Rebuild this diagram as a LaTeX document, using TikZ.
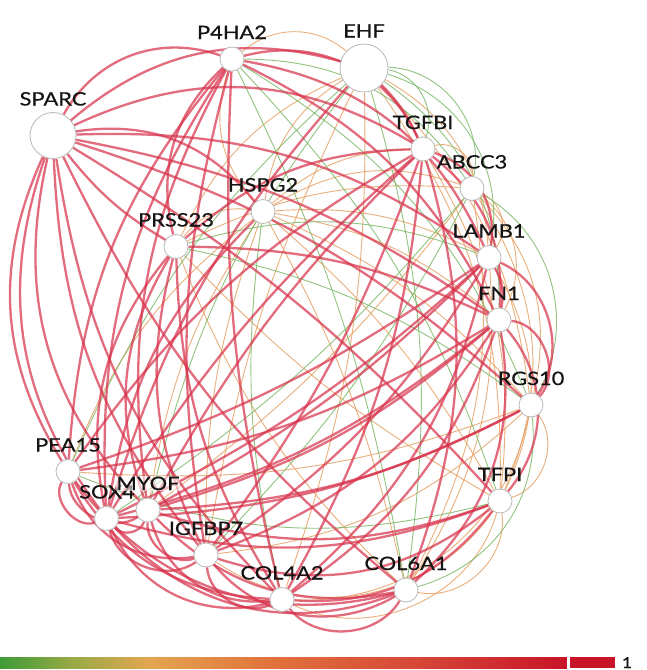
\documentclass[tikz,border=0pt]{standalone}
\usepackage{fontspec}
\setmainfont{Lato}[FakeStretch=1.18,FakeBold=0.6]
\definecolor{edR}{RGB}{215,50,75}
\definecolor{edO}{RGB}{230,160,100}
\definecolor{edG}{RGB}{125,185,105}
\definecolor{nodeB}{RGB}{185,185,185}
\definecolor{txt}{RGB}{20,20,20}
\definecolor{cb0}{RGB}{62,155,55}
\definecolor{cb1}{RGB}{150,170,70}
\definecolor{cb2}{RGB}{228,165,80}
\definecolor{cb3}{RGB}{225,115,60}
\definecolor{cb4}{RGB}{213,70,55}
\definecolor{cb5}{RGB}{200,20,40}
\pgfdeclarelayer{bg}
\pgfsetlayers{bg,main}
\begin{document}
\begin{tikzpicture}[x=1pt,y=-1pt,
  gn/.style={circle, draw=nodeB, fill=white, line width=0.8pt, inner sep=0pt},
  lbl/.style={anchor=base, inner sep=0pt, font=\fontsize{18.5}{22}\selectfont, text=txt},
  redE/.style={draw=edR, draw opacity=0.72, line width=2.3pt},
  orE/.style={draw=edO, draw opacity=0.85, line width=0.9pt},
  grE/.style={draw=edG, draw opacity=0.85, line width=0.9pt}]
\useasboundingbox (0,0) rectangle (646,670);
% nodes
\node[gn, minimum size=24pt] (P) at (232,59) {};
\node[gn, minimum size=48pt] (E) at (364,68) {};
\node[gn, minimum size=46pt] (S) at (53,135.5) {};
\node[gn, minimum size=24pt] (T) at (423,149) {};
\node[gn, minimum size=24pt] (A) at (472,188.5) {};
\node[gn, minimum size=24pt] (H) at (263,211.5) {};
\node[gn, minimum size=24pt] (R) at (176,246.5) {};
\node[gn, minimum size=24pt] (L) at (489,257.5) {};
\node[gn, minimum size=24pt] (F) at (499,320) {};
\node[gn, minimum size=24pt] (G) at (531,405) {};
\node[gn, minimum size=24pt] (PE) at (68,471.5) {};
\node[gn, minimum size=24pt] (TF) at (500,501) {};
\node[gn, minimum size=24pt] (X) at (106.5,518.5) {};
\node[gn, minimum size=24pt] (M) at (148,510) {};
\node[gn, minimum size=24pt] (I) at (206,555) {};
\node[gn, minimum size=24pt] (C4) at (282,599.5) {};
\node[gn, minimum size=24pt] (C6) at (406,590) {};
% labels
\node[lbl] (lP) at (232,39) {P4HA2};
\node[lbl] (lE) at (364,37.5) {EHF};
\node[lbl] (lS) at (53,105.5) {SPARC};
\node[lbl] (lT) at (423,129) {TGFBI};
\node[lbl] (lA) at (472,168.5) {ABCC3};
\node[lbl] (lH) at (263,191.5) {HSPG2};
\node[lbl] (lR) at (176,226.5) {PRSS23};
\node[lbl] (lL) at (489,237.5) {LAMB1};
\node[lbl] (lF) at (499,300) {FN1};
\node[lbl] (lG) at (531,385) {RGS10};
\node[lbl] (lPE) at (68,451.5) {PEA15};
\node[lbl] (lTF) at (500,481) {TFPI};
\node[lbl] (lX) at (107,498.5) {SOX4};
\node[lbl, fill=white, fill opacity=0.55, text opacity=1, inner sep=1pt] (lM) at (148,490) {MYOF};
\node[lbl] (lI) at (206,535) {IGFBP7};
\node[lbl] (lC4) at (282,579.5) {COL4A2};
\node[lbl] (lC6) at (406,570) {COL6A1};
% edges
\begin{pgfonlayer}{bg}
\foreach \a/\b/\c in {P/E/40, H/E/25, E/L/28, E/G/18, E/TF/18, R/E/20, I/E/8,
  T/A/55, A/L/50, A/F/40, A/G/28, A/TF/28, A/C6/18, H/A/25, R/A/15, A/M/8,
  H/P/30, R/H/30, H/T/20, H/F/15, H/L/15, H/G/12, H/TF/10, H/C6/8, I/H/10, M/H/12,
  G/TF/55, G/C4/40, G/I/18, TF/C6/55, TF/R/8, T/TF/18, L/TF/28, C6/R/12, L/C6/18,
  E/C4/10, PE/H/15, G/PE/12, TF/C4/50, TF/I/45}
  \draw[orE] (\a) to[bend left=\c] (\b);
\foreach \a/\b/\c in {E/A/50, E/C6/12, M/E/12, PE/E/12, E/F/28, P/A/28, C4/H/10,
  A/X/8, E/T/50, P/G/18, P/TF/12, TF/PE/18, A/I/8, G/C6/40, R/G/12, E/L/42, A/G/45,
  P/C6/8, R/L/18}
  \draw[grE] (\a) to[bend left=\c] (\b);
\foreach \a/\b/\c in {S/P/40, S/E/28, S/T/28, S/L/18, S/F/12, S/H/30, R/S/10,
  PE/S/28, X/S/28, M/S/28, I/S/18, C4/S/18, C6/S/12, S/G/12, S/TF/8,
  P/T/40, P/L/28, P/F/18, X/P/18, M/P/18, I/P/12, C4/P/8, PE/P/18, R/P/30,
  E/T/10, X/E/12,
  X/T/8, M/T/8, T/I/8, T/C4/12, T/C6/18, PE/T/12, T/F/28, T/L/40, R/T/20,
  L/X/8, L/M/8, L/I/12, L/C4/18, L/PE/8, L/G/50, L/F/20,
  F/X/12, F/M/12, F/I/18, F/C4/18, F/C6/28, F/PE/12, F/TF/40, F/G/65, R/F/12,
  X/R/25, M/R/25, I/R/20, C4/R/15,
  X/PE/70, M/PE/60, I/PE/40, C4/PE/28, C6/PE/34,
  M/X/60, I/X/55, C4/X/40, C6/X/34, TF/X/18, G/X/12,
  I/M/55, C4/M/40, C6/M/28, TF/M/18, G/M/12,
  C4/I/55, C6/I/40, TF/I/28, C6/C4/55, TF/C4/28, X/H/18}
  \draw[redE] (\a) to[bend left=\c] (\b);
\end{pgfonlayer}
% colour bar
\shade[left color=cb0, right color=cb1] (0,657) rectangle (70.5,668);
\shade[left color=cb1, right color=cb2] (70,657) rectangle (150.5,668);
\shade[left color=cb2, right color=cb3] (150,657) rectangle (270.5,668);
\shade[left color=cb3, right color=cb4] (270,657) rectangle (420.5,668);
\shade[left color=cb4, right color=cb5] (420,657) rectangle (567,668);
\fill[white] (567,0) rectangle (569.5,670);
\fill[cb5] (570,657) rectangle (615,668);
\node[anchor=base, inner sep=0pt, font=\fontsize{15}{18}\selectfont, text=txt] (one) at (627,668) {1};
\end{tikzpicture}
\end{document}
